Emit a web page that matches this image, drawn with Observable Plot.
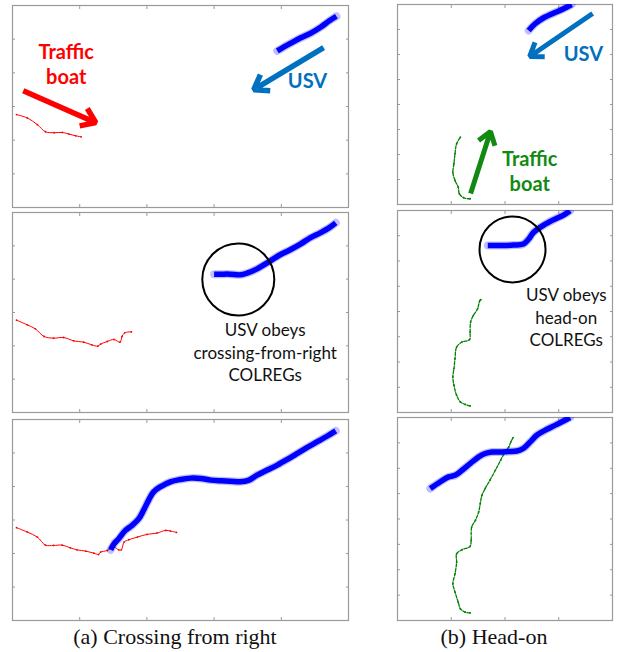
<!DOCTYPE html>
<html><head><meta charset="utf-8">
<script src="https://cdn.jsdelivr.net/npm/d3@7"></script>
<script src="https://cdn.jsdelivr.net/npm/@observablehq/plot@0.6"></script>
<style>
body{margin:0;background:#fff;}
#wrap{position:relative;width:618px;height:652px;overflow:hidden;}
#wrap > svg{position:absolute;}
.cap{position:absolute;font-family:"Liberation Serif","Times New Roman",serif;font-size:22px;transform:translate(-50%,-50%);white-space:nowrap;color:#111;}
</style></head><body><div id="wrap"></div>
<script>
// ---- Crossing from right (left column), x in [0,5], y in [0,6]
const crossXTicks = [1, 2, 3, 4];
const crossYTicks = [1, 2, 3, 4, 5];
const crossBoat1 = [[0.06,2.76],[0.22,2.66],[0.37,2.46],[0.49,2.25],[0.62,2.22],[0.74,2.23],[0.84,2.18],[0.94,2.13],[1.02,2.10]];
const crossUsv1 = [[4.82,5.68],[4.71,5.54],[4.59,5.36],[4.44,5.18],[4.29,5.04],[4.14,4.88],[4.04,4.77],[3.94,4.65]];
const crossBoat2 = [[0.06,2.77],[0.22,2.63],[0.34,2.51],[0.47,2.28],[0.61,2.23],[0.76,2.25],[0.91,2.15],[1.06,2.11],[1.18,2.03],[1.27,1.99],[1.31,2.05],[1.41,2.13],[1.51,2.19],[1.60,2.11],[1.63,2.28],[1.67,2.39],[1.77,2.42]];
const crossUsv2 = [[4.81,5.69],[4.71,5.54],[4.58,5.39],[4.43,5.24],[4.29,5.06],[4.14,4.89],[3.99,4.74],[3.79,4.49],[3.64,4.31],[3.49,4.18],[3.39,4.13],[3.24,4.15],[3.10,4.15],[3.00,4.15]];
const crossBoat3 = [[0.06,2.77],[0.22,2.64],[0.37,2.49],[0.49,2.25],[0.61,2.24],[0.74,2.25],[0.86,2.17],[0.96,2.11],[1.09,2.07],[1.21,2.01],[1.28,1.97],[1.31,2.04],[1.41,2.09],[1.51,2.19],[1.58,2.11],[1.62,2.11],[1.66,2.34],[1.73,2.41],[1.86,2.49],[2.00,2.57],[2.15,2.61],[2.28,2.69],[2.35,2.67],[2.44,2.63]];
const crossUsv3 = [[4.81,5.66],[4.68,5.50],[4.53,5.33],[4.38,5.16],[4.24,4.99],[4.09,4.81],[3.94,4.64],[3.79,4.49],[3.64,4.34],[3.52,4.19],[3.39,4.14],[3.24,4.16],[3.10,4.17],[2.95,4.19],[2.80,4.24],[2.65,4.25],[2.50,4.21],[2.35,4.14],[2.20,3.99],[2.10,3.84],[2.03,3.61],[1.95,3.29],[1.88,3.04],[1.78,2.84],[1.68,2.69],[1.58,2.44],[1.51,2.29],[1.46,2.11]];
const crossArrows = [{x1:0.16,y1:3.47,x2:1.24,y2:2.52,c:"red"},{x1:4.63,y1:4.75,x2:3.59,y2:3.50,c:"usv"}];
const crossLabels = [{x:0.80,y:4.28,t:"Traffic\nboat",c:"red"},{x:4.39,y:3.80,t:"USV",c:"usv"}];
const crossCircle = [{x:3.36,y:3.99}];
const crossNote = [{x:3.76,y:1.83,t:"USV obeys\ncrossing-from-right\nCOLREGs"}];

// ---- Head-on (right column), x in [0,4], y in [0,8]
const headXTicks = [1, 2, 3];
const headYTicks = [1, 2, 3, 4, 5, 6, 7];
const headBoat1 = [[1.35,0.23],[1.23,0.27],[1.15,0.43],[1.13,0.69],[1.07,0.96],[1.03,1.29],[1.05,1.63],[1.07,2.03],[1.10,2.43],[1.17,2.69]];
const headUsv1 = [[3.24,8.00],[3.09,7.83],[2.90,7.65],[2.72,7.47],[2.56,7.23],[2.44,6.96]];
const headBoat2 = [[1.35,0.26],[1.26,0.32],[1.17,0.42],[1.10,0.68],[1.05,1.08],[1.03,1.41],[1.05,1.74],[1.07,2.13],[1.10,2.59],[1.20,2.79],[1.34,2.89],[1.35,3.18],[1.36,3.58],[1.41,3.84],[1.49,4.11],[1.53,4.43],[1.55,4.47]];
const headUsv2 = [[3.21,7.99],[3.09,7.82],[2.90,7.63],[2.72,7.42],[2.53,7.13],[2.44,6.87],[2.34,6.67],[2.16,6.63],[1.97,6.61],[1.85,6.61],[1.68,6.61]];
const headBoat3 = [[1.35,0.30],[1.26,0.33],[1.17,0.46],[1.13,0.72],[1.07,1.12],[1.03,1.45],[1.07,1.84],[1.10,2.30],[1.10,2.63],[1.20,2.79],[1.35,2.92],[1.37,3.16],[1.38,3.68],[1.45,3.95],[1.51,4.28],[1.54,4.61],[1.57,4.93],[1.63,5.20],[1.72,5.53],[1.82,5.92],[1.92,6.32],[2.00,6.64],[2.07,6.84],[2.11,7.04],[2.15,7.21]];
const headUsv3 = [[3.21,8.00],[3.06,7.83],[2.90,7.66],[2.75,7.50],[2.59,7.30],[2.47,7.04],[2.34,6.78],[2.22,6.68],[2.07,6.66],[1.91,6.64],[1.76,6.64],[1.63,6.58],[1.51,6.45],[1.35,6.18],[1.20,5.92],[1.07,5.72],[0.95,5.66],[0.79,5.46],[0.61,5.20]];
const headArrows = [{x1:3.63,y1:7.64,x2:2.46,y2:5.92,c:"usv"},{x1:1.36,y1:0.44,x2:1.73,y2:2.92,c:"green"}];
const headLabels = [{x:3.46,y:6.05,t:"USV",c:"usv"},{x:2.46,y:1.36,t:"Traffic\nboat",c:"green"}];
const headCircle = [{x:2.14,y:6.46}];
const headNote = [{x:3.14,y:3.80,t:"USV obeys\nhead-on\nCOLREGs"}];

const captions = ["(a) Crossing from right", "(b) Head-on"];

const GRAY = "#9a9a9a";
const COLORS = {red: "#ff0000", usv: "#0070c0", green: "#128a12", blue: "#0000ff", boatRed: "#ff0000", boatGreen: "#008000"};
const wrap = document.getElementById("wrap");

function usvMarks(data) {
  return [
    Plot.line(data, {x: d => d[0], y: d => d[1], stroke: COLORS.blue, strokeWidth: 8, strokeOpacity: 0.25, curve: "catmull-rom", clip: true}),
    Plot.line(data, {x: d => d[0], y: d => d[1], stroke: COLORS.blue, strokeWidth: 5.5, curve: "catmull-rom", clip: true, strokeLinecap: "butt"})
  ];
}
function boatMarks(data, color, dashed) {
  return [
    Plot.line(data, {x: d => d[0], y: d => d[1], stroke: color, strokeWidth: dashed ? 1.3 : 1, strokeDasharray: dashed ? "3,1.5" : null, curve: "catmull-rom", clip: true}),
    Plot.dot(data, {x: d => d[0], y: d => d[1], r: 0.9, fill: color, stroke: "none"})
  ];
}
function arrowMarks(arrows, sw, hl) {
  return [Plot.arrow(arrows, {x1: "x1", y1: "y1", x2: "x2", y2: "y2", stroke: d => COLORS[d.c], strokeWidth: sw, headLength: hl, headAngle: 70, strokeLinecap: "butt"})];
}
function labelMarks(labels) {
  return [Plot.text(labels, {x: "x", y: "y", text: "t", fill: d => COLORS[d.c], fontFamily: "Lato, 'Open Sans', sans-serif", fontWeight: "bold", fontSize: 20, lineHeight: 1.25, textAnchor: "middle", lineAnchor: "middle"})];
}
function noteMarks(circle, note, r) {
  return [
    Plot.dot(circle, {x: "x", y: "y", r, stroke: "black", strokeWidth: 2, fill: "none"}),
    Plot.text(note, {x: "x", y: "y", text: "t", fill: "#111", fontFamily: "Lato, 'Open Sans', sans-serif", fontSize: 17, lineHeight: 1.33, textAnchor: "middle", lineAnchor: "middle"})
  ];
}

function panel({left, top, w, h, xdom, ydom, xticks, yticks, marks}) {
  const m = 2;
  const blank = () => "";
  const svg = Plot.plot({
    width: w + 2 * m, height: h + 2 * m,
    marginTop: m, marginRight: m, marginBottom: m, marginLeft: m,
    x: {domain: xdom, label: null}, y: {domain: ydom, label: null},
    style: {background: "transparent", overflow: "visible"},
    marks: [
      Plot.frame({stroke: GRAY, strokeWidth: 1.2}),
      Plot.axisX(xticks, {anchor: "bottom", tickSize: -3, tickFormat: blank, stroke: GRAY, label: null}),
      Plot.axisX(xticks, {anchor: "top", tickSize: -3, tickFormat: blank, stroke: GRAY, label: null}),
      Plot.axisY(yticks, {anchor: "left", tickSize: -3, tickFormat: blank, stroke: GRAY, label: null}),
      Plot.axisY(yticks, {anchor: "right", tickSize: -3, tickFormat: blank, stroke: GRAY, label: null}),
      ...marks
    ]
  });
  svg.style.left = (left - m) + "px";
  svg.style.top = (top - m) + "px";
  wrap.appendChild(svg);
}

const L = {left: 12, w: 336, xdom: [0, 5], ydom: [0, 6], xticks: crossXTicks, yticks: crossYTicks};
const R = {left: 397, w: 215, xdom: [0, 4], ydom: [0, 8], xticks: headXTicks, yticks: headYTicks};

panel({...L, top: 5, h: 202, marks: [
  ...boatMarks(crossBoat1, COLORS.boatRed, false), ...usvMarks(crossUsv1),
  ...arrowMarks(crossArrows, 5.5, 4.5), ...labelMarks(crossLabels)]});
panel({...L, top: 212, h: 200, marks: [
  ...boatMarks(crossBoat2, COLORS.boatRed, false), ...usvMarks(crossUsv2),
  ...noteMarks(crossCircle, crossNote, 36)]});
panel({...L, top: 419, h: 201, marks: [
  ...boatMarks(crossBoat3, COLORS.boatRed, false), ...usvMarks(crossUsv3)]});

panel({...R, top: 4, h: 200, marks: [
  ...boatMarks(headBoat1, COLORS.boatGreen, true), ...usvMarks(headUsv1),
  ...arrowMarks(headArrows, 5, 4.5), ...labelMarks(headLabels)]});
panel({...R, top: 210, h: 202, marks: [
  ...boatMarks(headBoat2, COLORS.boatGreen, true), ...usvMarks(headUsv2),
  ...noteMarks(headCircle, headNote, 33)]});
panel({...R, top: 417, h: 203, marks: [
  ...boatMarks(headBoat3, COLORS.boatGreen, true), ...usvMarks(headUsv3)]});

[[captions[0], 175], [captions[1], 494]].forEach(([t, x]) => {
  const d = document.createElement("div");
  d.className = "cap";
  d.textContent = t;
  d.style.left = x + "px";
  d.style.top = "637px";
  wrap.appendChild(d);
});
</script></body></html>
